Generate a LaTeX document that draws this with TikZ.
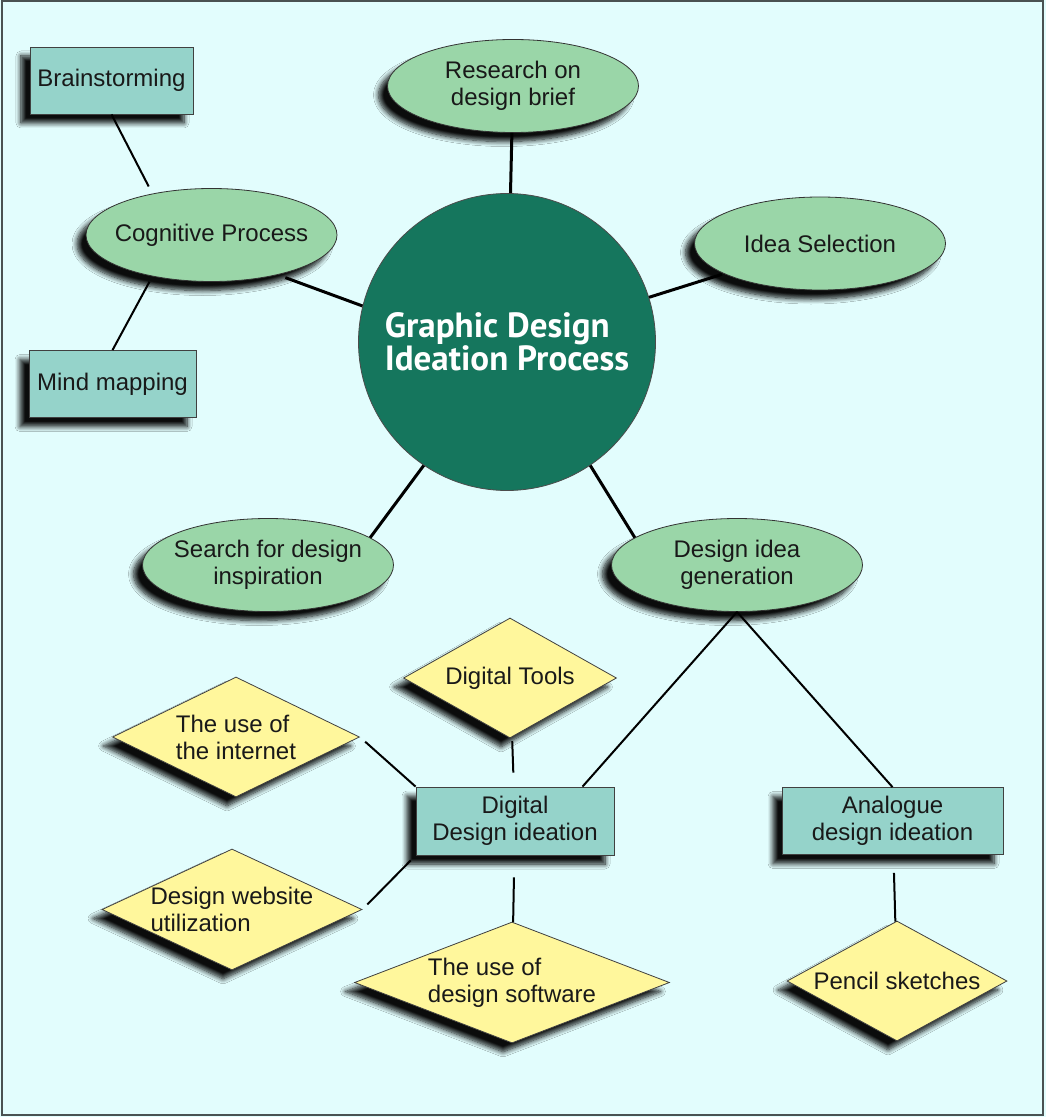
\documentclass[tikz,border=0pt]{standalone}
\usepackage{fontspec}
\setmainfont{Liberation Sans}
\newfontfamily\hubfont{PT Sans}
\usetikzlibrary{shapes.geometric,shadows.blur}

\definecolor{paper}{HTML}{E2FDFD}
\definecolor{leaf}{HTML}{9AD6A8}
\definecolor{boxteal}{HTML}{95D3CA}
\definecolor{ideayellow}{HTML}{FFF79C}
\definecolor{hubgreen}{HTML}{15765D}
\definecolor{framegray}{HTML}{4A5252}

\begin{document}
\begin{tikzpicture}[x=0.5pt, y=-0.5pt,
    every node/.style={font=\fontsize{12}{13.5}\selectfont, text=black!90},
    castshadow/.style={blur shadow={shadow xshift=-4.5pt, shadow yshift=-4.5pt,
        shadow opacity=95, shadow blur radius=2.5pt, shadow blur steps=8}},
    stage/.style={ellipse, draw=black!80, fill=leaf, castshadow, inner sep=0pt,
        inner xsep=-8pt, minimum width=125.5pt, minimum height=46.5pt, align=center},
    method/.style={rectangle, draw=black!75, fill=boxteal, castshadow,
        inner sep=0pt, minimum height=33.5pt, align=center},
    tool/.style={diamond, draw=black!75, fill=ideayellow, castshadow,
        inner sep=-4pt, aspect=2, align=left},
    link/.style={line width=1pt},
    hublink/.style={line width=1.5pt}]
    % page
    \useasboundingbox (0,0) rectangle (1046,1117);
    \fill[paper] (0,0) rectangle (1046,1117);
    \draw[framegray, line width=1pt] (1.5,1.5) rectangle (1043,1115);

    % centre
    \node[circle, draw=black!70, fill=hubgreen, minimum size=148.5pt, inner sep=0pt,
        align=left, text=white, font=\hubfont\bfseries\fontsize{17.5}{16.5}\selectfont]
        (hub) at (507, 342) {Graphic Design\\Ideation Process};

    % stages
    \node[stage] (res) at (513, 86) {Research on\\design brief};
    \node[stage] (cog) at (211.5, 235) {Cognitive Process};
    \node[stage] (idea) at (820, 243.5) {Idea Selection};
    \node[stage] (search) at (268, 565) {Search for design\\inspiration};
    \node[stage] (gen) at (737, 565) {Design idea\\generation};

    % methods
    \node[method, minimum width=81.5pt] (brain) at (111.5, 80.5) {Brainstorming};
    \node[method, minimum width=83.5pt] (mind) at (112.5, 384) {Mind mapping};
    \node[method, minimum width=99pt, minimum height=34pt] (ddi) at (515, 821)
        {Digital\\Design ideation};
    \node[method, minimum width=110.5pt] (ana) at (892.5, 821)
        {Analogue\\design ideation};

    % tools
    \node[tool, minimum width=106.5pt, minimum height=60pt] (tools) at (510, 678)
        {Digital Tools};
    \node[tool, minimum width=123.5pt, minimum height=60pt] (net) at (236, 737)
        {The use of\\the internet};
    \node[tool, minimum width=130pt, minimum height=60.5pt] (web) at (232, 909.5)
        {Design website\\utilization};
    \node[tool, minimum width=157.5pt, minimum height=60.5pt, aspect=2.6] (soft)
        at (512, 982.5) {The use of\\design software};
    \node[tool, minimum width=110pt, minimum height=60pt] (pencil) at (897, 981)
        {Pencil sketches};

    % links to the centre
    \draw[hublink] (res) -- (hub);
    \draw[hublink, shorten <=4pt] (cog.-31) -- (hub.166);
    \draw[hublink, shorten <=1pt] (idea) -- (hub);
    \draw[hublink] (search.15) -- (hub.236);
    \draw[hublink] (hub.304) -- (gen.165);

    % other links
    \draw[link, shorten >=4pt] (brain.south) -- (cog.145);
    \draw[link, shorten <=3pt] (cog.215) -- (mind.north);
    \draw[link] (gen.south) -- (ddi.27);
    \draw[link] (gen.south) -- (ana.north);
    \draw[link, shorten <=2pt, shorten >=7pt] (tools) -- (ddi);
    \draw[link, shorten <=3.5pt] (net.east) -- (ddi.north west);
    \draw[link, shorten <=3.5pt, shorten >=3.5pt] (web.east) -- (ddi.south west);
    \draw[link, shorten <=11pt] (ddi) -- (soft);
    \draw[link, shorten <=9pt] (ana) -- (pencil);
\end{tikzpicture}
\end{document}
